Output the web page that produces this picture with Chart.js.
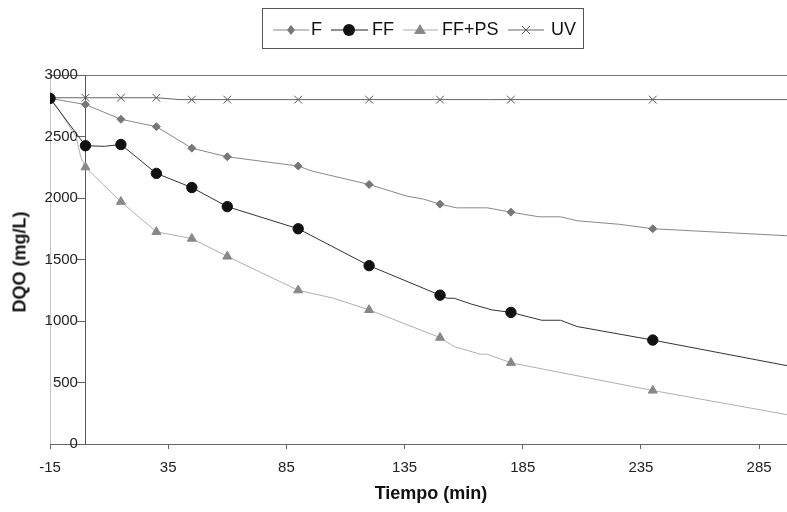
<!DOCTYPE html>
<html>
<head>
<meta charset="utf-8">
<script src="https://cdn.jsdelivr.net/npm/chart.js@4.4.1/dist/chart.umd.min.js"></script>
<style>
  body { margin: 0; background: #fff; font-family: "Liberation Sans", Arial, sans-serif; overflow: hidden; }
  #wrap { position: relative; width: 787px; height: 512px; overflow: hidden; }
  #legend { position: absolute; left: 262px; top: 8px; width: 322px; height: 41px; border: 1px solid #555; box-sizing: border-box; }
  #legend svg { position: absolute; left: 0; top: 0; }
  #legend span { position: absolute; top: 11px; font-size: 18px; line-height: 18px; color: #111; }
  #ytitle { position: absolute; left: 20px; top: 262px; transform: translate(-50%, -50%) rotate(-90deg);
            font-weight: bold; font-size: 18px; white-space: nowrap; color: #111; }
  #xtitle { position: absolute; left: 431px; top: 493px; transform: translate(-50%, -50%);
            font-weight: bold; font-size: 18px; white-space: nowrap; color: #111; }
</style>
</head>
<body>
<div id="wrap">
  <!-- the canvas is a little wider than the page: the plot runs off the right edge like the original -->
  <canvas id="dqoChart" width="794" height="512"></canvas>
  <div id="legend">
    <svg width="322" height="41">
      <line x1="10" y1="21" x2="46" y2="21" stroke="#888" stroke-width="1"/>
      <polygon points="28,16 32,21 28,26 24,21" fill="#777"/>
      <line x1="68" y1="21" x2="105" y2="21" stroke="#222" stroke-width="1"/>
      <circle cx="86" cy="21" r="6" fill="#111"/>
      <line x1="140" y1="21" x2="175" y2="21" stroke="#aaa" stroke-width="1"/>
      <polygon points="157,15 163,25 151,25" fill="#888"/>
      <line x1="245" y1="21" x2="281" y2="21" stroke="#666" stroke-width="1"/>
      <line x1="259" y1="17" x2="267" y2="25" stroke="#555" stroke-width="1"/>
      <line x1="267" y1="17" x2="259" y2="25" stroke="#555" stroke-width="1"/>
    </svg>
    <span style="left:48px">F</span>
    <span style="left:109px">FF</span>
    <span style="left:179px">FF+PS</span>
    <span style="left:288px">UV</span>
  </div>
  <div id="ytitle">DQO (mg/L)</div>
  <div id="xtitle">Tiempo (min)</div>
</div>
<script>
  // tiempos de muestreo (min) con marcador
  const markerTimes = [-15, 0, 15, 30, 45, 60, 90, 120, 150, 180, 240];
  const fMarks    = [2810, 2760, 2640, 2580, 2405, 2335, 2260, 2110, 1950, 1885, 1750];
  const ffMarks   = [2810, 2425, 2435, 2200, 2085, 1930, 1750, 1450, 1210, 1070, 845];
  const ffpsMarks = [2810, 2250, 1970, 1725, 1670, 1525, 1250, 1090, 865, 660, 435];
  const uvMarks   = [2815, 2815, 2815, 2815, 2800, 2800, 2800, 2800, 2800, 2800, 2800];

  // trazado de las curvas
  const fLineT = [-15, 0, 15, 30, 45, 60, 90, 96, 120, 136, 143, 150, 157, 170, 180, 192, 201, 208, 226, 240, 297];
  const fLineV = [2810, 2760, 2640, 2580, 2405, 2335, 2260, 2218, 2110, 2015, 1991, 1950, 1920, 1920, 1885, 1847, 1847, 1815, 1786, 1750, 1693];
  const ffLineT = [-15, 0, 8, 15, 30, 45, 60, 90, 120, 150, 153, 156, 163, 172, 180, 193, 201, 208, 240, 297];
  const ffLineV = [2810, 2425, 2420, 2435, 2200, 2085, 1930, 1750, 1450, 1210, 1185, 1185, 1139, 1090, 1070, 1006, 1006, 955, 845, 636];
  const ffpsLineT = [-15, -12, -4, -2, 0, 15, 30, 45, 60, 90, 105, 120, 129, 150, 156, 167, 170, 180, 240, 297];
  const ffpsLineV = [2810, 2740, 2500, 2335, 2250, 1970, 1725, 1670, 1525, 1250, 1185, 1090, 1023, 865, 792, 730, 730, 660, 435, 238];
  const uvLineT = [-15, 30, 40, 45, 297];
  const uvLineV = [2815, 2815, 2800, 2800, 2800];

  const xTicks = [-15, 35, 85, 135, 185, 235, 285];

  const pts = (ts, vs) => ts.map((t, i) => ({ x: t, y: vs[i] }));

  function lineSet(label, ts, vs, color) {
    return { label: label, data: pts(ts, vs), showLine: true, borderColor: color, borderWidth: 1,
             pointRadius: 0, tension: 0, fill: false };
  }
  function markSet(label, vs, style, color, r) {
    return { label: label, data: pts(markerTimes, vs), showLine: false, pointStyle: style,
             pointRadius: r, backgroundColor: color, borderColor: color, borderWidth: 1 };
  }

  const ctx = document.getElementById('dqoChart').getContext('2d');
  const dqoChart = new Chart(ctx, {
    type: 'scatter',
    data: {
      datasets: [
        markSet('FF', ffMarks, 'circle', '#111', 5.2),
        markSet('F', fMarks, 'rectRot', '#777', 4),
        markSet('FF+PS', ffpsMarks, 'triangle', '#888', 5.2),
        markSet('UV', uvMarks, 'crossRot', '#555', 5.5),
        lineSet('FF', ffLineT, ffLineV, '#333'),
        lineSet('F', fLineT, fLineV, '#888'),
        lineSet('FF+PS', ffpsLineT, ffpsLineV, '#b0b0b0'),
        lineSet('UV', uvLineT, uvLineV, '#666')
      ]
    },
    options: {
      responsive: false,
      animation: false,
      layout: { padding: { top: 75, left: 50, right: 0, bottom: 25 } },
      plugins: {
        legend: { display: false },
        tooltip: { enabled: false }
      },
      scales: {
        x: {
          type: 'linear',
          min: -15,
          max: 297,
          afterBuildTicks: (scale) => { scale.ticks = xTicks.map(v => ({ value: v })); },
          ticks: { font: { size: 15, family: 'Liberation Sans' }, color: '#222', padding: 10, maxRotation: 0 },
          grid: {
            color: (c) => (c.tick && c.tick.value === -15) ? '#c4c4c4' : 'rgba(0,0,0,0)',
            tickColor: '#666',
            tickLength: 5
          },
          border: { color: '#666', width: 1 }
        },
        y: {
          position: { x: 0 },
          min: 0,
          max: 3000,
          ticks: {
            stepSize: 500,
            font: { size: 15, family: 'Liberation Sans' },
            color: '#222',
            // en space keeps the label clear of the tick mark
            callback: (v) => String(v) + '\u2002'
          },
          grid: {
            color: (c) => (c.tick && c.tick.value === 3000) ? '#777' : 'rgba(0,0,0,0)',
            tickColor: '#666',
            tickLength: 8
          },
          border: { color: '#555', width: 1 }
        }
      }
    }
  });
</script>
</body>
</html>
